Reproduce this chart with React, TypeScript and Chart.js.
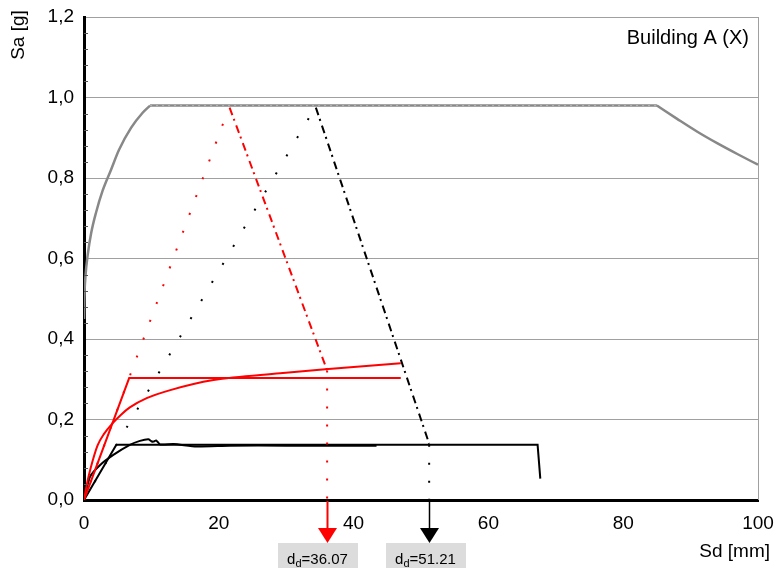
import React, { useEffect, useRef } from 'react';
import { Chart, registerables } from 'chart.js';

Chart.register(...registerables);

// ---------- data ----------
const xTickStep = 20;
const yTickStep = 0.2;
const xMax = 100;
const yMax = 1.2;

// elastic demand spectrum (ADRS): rising branch, plateau, falling branch
const specRiseSd = [0, 0.05, 0.22, 0.55, 1.05, 1.8, 2.75, 4.0, 5.2, 7.0, 8.7, 9.8];
const specRiseSa = [0.45, 0.5, 0.556, 0.609, 0.662, 0.715, 0.768, 0.82, 0.87, 0.925, 0.962, 0.98];
const specFlatSd = [9.8, 85];
const specFlatSa = [0.98, 0.98];
const specFallSd = [85, 88, 91, 94, 97, 100];
const specFallSa = [0.98, 0.947, 0.915, 0.886, 0.859, 0.833];

// red capacity curve + bilinear
const redCapSd = [0, 0.5, 1.0, 2.0, 3.0, 4.2, 5.5, 6.8, 9.3, 12.8, 19.2, 29.1, 35.8, 47.0];
const redCapSa = [0, 0.045, 0.08, 0.135, 0.165, 0.19, 0.212, 0.23, 0.253, 0.273, 0.298, 0.315, 0.325, 0.34];
const redBilinSd = [0, 6.7, 47.0];
const redBilinSa = [0, 0.303, 0.303];

// black capacity curve + bilinear
const blackCapSd = [0, 0.9, 2.4, 4.35, 6.8, 8.3, 9.55, 10.0, 10.3, 10.7, 11.3, 13.3, 16.7, 21.6, 30, 43.4];
const blackCapSa = [0, 0.058, 0.087, 0.112, 0.137, 0.147, 0.151, 0.146, 0.145, 0.148, 0.138, 0.139, 0.133, 0.135, 0.135, 0.135];
const blackBilinSd = [0, 4.8, 67.3, 67.7];
const blackBilinSa = [0, 0.137, 0.137, 0.053];

// elastic stiffness lines (dotted)
const redElasticSd = [0, 21.4];
const redElasticSa = [0, 0.97];
const blackElasticSd = [0, 34.1];
const blackElasticSa = [0, 0.97];

// demand lines (dash-dot)
const redDemandSd = [21.6, 36.07];
const redDemandSa = [0.975, 0.322];
const blackDemandSd = [34.4, 51.21];
const blackDemandSa = [0.975, 0.14];

// target displacements
const ddValues = [36.07, 51.21];
const ddLevels = [0.322, 0.137];
const ddLabels = ['36.07', '51.21'];
const ddColors = ['#ff0000', '#000000'];

const FONT = '"Liberation Sans", Arial, sans-serif';

const pts = (xs: number[], ys: number[]) => xs.map((v, i) => ({ x: v, y: ys[i] }));

const decorPlugin = {
  id: 'decor',
  afterDraw(chart: any) {
    const { ctx, chartArea: ca, scales } = chart;
    const x = scales.x;
    const y = scales.y;
    ctx.save();
    // right border
    ctx.strokeStyle = '#a0a0a0';
    ctx.lineWidth = 1;
    ctx.beginPath();
    ctx.moveTo(Math.round(ca.right) + 0.5, ca.top);
    ctx.lineTo(Math.round(ca.right) + 0.5, ca.bottom);
    ctx.stroke();
    // minor ticks on y axis
    ctx.strokeStyle = '#555';
    for (let i = 1; i < 30; i++) {
      if (i % 5 === 0) continue;
      const py = Math.round(y.getPixelForValue(i * 0.04)) + 0.5;
      ctx.beginPath();
      ctx.moveTo(ca.left, py);
      ctx.lineTo(ca.left + 4, py);
      ctx.stroke();
    }
    // titles
    ctx.fillStyle = '#000';
    ctx.font = `19px ${FONT}`;
    ctx.textAlign = 'center';
    ctx.textBaseline = 'middle';
    ctx.save();
    ctx.translate(19, 35);
    ctx.rotate(-Math.PI / 2);
    ctx.fillText('Sa [g]', 0, 0);
    ctx.restore();
    ctx.textAlign = 'right';
    ctx.fillText('Sd [mm]', 770, 552);
    ctx.font = `20px ${FONT}`;
    ctx.fillText('Building A (X)', 749, 38);

    // arrows & labels
    const boxOffsets = [-10, -4];
    ddValues.forEach((v, i) => {
      const px = Math.round(x.getPixelForValue(v)) + 0.5;
      const color = ddColors[i];
      ctx.strokeStyle = color;
      ctx.fillStyle = color;
      ctx.lineWidth = i === 0 ? 2 : 1.5;
      ctx.beginPath();
      ctx.moveTo(px, ca.bottom + 1);
      ctx.lineTo(px, 530);
      ctx.stroke();
      ctx.beginPath();
      ctx.moveTo(px - 9.5, 528);
      ctx.lineTo(px + 9.5, 528);
      ctx.lineTo(px, 543);
      ctx.closePath();
      ctx.fill();
      // box
      const bc = px + boxOffsets[i];
      ctx.fillStyle = '#dcdcdc';
      ctx.fillRect(Math.round(bc - 40), 543, 80, 25);
      // text with subscript
      ctx.fillStyle = '#000';
      ctx.textAlign = 'left';
      ctx.textBaseline = 'alphabetic';
      ctx.font = `15px ${FONT}`;
      const w1 = ctx.measureText('d').width;
      const w3 = ctx.measureText('=' + ddLabels[i]).width;
      ctx.font = `11px ${FONT}`;
      const w2 = ctx.measureText('d').width;
      const total = w1 + w2 + w3;
      let tx = bc - total / 2;
      const base = 564;
      ctx.font = `15px ${FONT}`;
      ctx.fillText('d', tx, base);
      tx += w1;
      ctx.font = `11px ${FONT}`;
      ctx.fillText('d', tx, base + 3);
      tx += w2;
      ctx.font = `15px ${FONT}`;
      ctx.fillText('=' + ddLabels[i], tx, base);
    });
    ctx.restore();
  },
};

export default function App() {
  const ref = useRef<HTMLCanvasElement | null>(null);
  useEffect(() => {
    document.body.style.margin = '0';
    if (!ref.current) return;
    const line = (data: any[], color: string, width: number, extra: any = {}) => ({
      data,
      borderColor: color,
      backgroundColor: color,
      borderWidth: width,
      pointRadius: 0,
      showLine: true,
      fill: false,
      ...extra,
    });
    const chart = new Chart(ref.current, {
      type: 'scatter',
      data: {
        datasets: [
          line(pts(redDemandSd, redDemandSa), '#ff0000', 2, { borderDash: [8, 4, 2, 5] }),
          line(pts(blackDemandSd, blackDemandSa), '#000000', 2, { borderDash: [8, 4, 2, 5] }),
          line(pts(redElasticSd, redElasticSa), '#ff0000', 2, { borderDash: [2, 17] }),
          line(pts(blackElasticSd, blackElasticSa), '#000000', 2, { borderDash: [2, 19] }),
          line(pts([ddValues[0], ddValues[0]], [ddLevels[0], 0]), '#ff0000', 2, { borderDash: [2, 16] }),
          line(pts([ddValues[1], ddValues[1]], [ddLevels[1], 0]), '#000000', 2, { borderDash: [2, 16] }),
          line(pts(redCapSd, redCapSa), '#ff0000', 2, { cubicInterpolationMode: 'monotone' }),
          line(pts(redBilinSd, redBilinSa), '#ff0000', 2),
          line(pts(blackCapSd, blackCapSa), '#000000', 2, { tension: 0.2 }),
          line(pts(blackBilinSd, blackBilinSa), '#000000', 2),
          line(pts(specFlatSd, specFlatSa), '#b4b4b4', 1, { borderDash: [2, 4] }),
          line(pts(specRiseSd, specRiseSa), '#888888', 2.5, { cubicInterpolationMode: 'monotone' }),
          line(pts(specFlatSd, specFlatSa), '#888888', 2.5),
          line(pts(specFallSd, specFallSa), '#888888', 2.5, { cubicInterpolationMode: 'monotone' }),
        ],
      },
      options: {
        animation: false,
        responsive: false,
        devicePixelRatio: 1,
        layout: { padding: { left: 0, right: 18, top: 17, bottom: 0 } },
        plugins: { legend: { display: false }, tooltip: { enabled: false }, title: { display: false } },
        scales: {
          x: {
            type: 'linear',
            min: 0,
            max: xMax,
            grid: { display: false, drawTicks: false },
            border: { display: true, color: '#000', width: 3 },
            ticks: {
              stepSize: xTickStep,
              color: '#000',
              font: { family: FONT, size: 19 },
              padding: 12,
              maxRotation: 0,
            },
            afterFit: (s: any) => {
              s.height = 71;
              s.paddingLeft = 0;
              s.paddingRight = 0;
            },
          },
          y: {
            type: 'linear',
            min: 0,
            max: yMax,
            grid: { color: '#a0a0a0', lineWidth: 1, drawTicks: false },
            border: { display: true, color: '#000', width: 3 },
            ticks: {
              stepSize: yTickStep,
              color: '#000',
              font: { family: FONT, size: 19 },
              padding: 10,
              callback: (v: any) => Number(v).toFixed(1).replace('.', ','),
            },
            afterFit: (s: any) => {
              s.width = 84;
              s.paddingTop = 0;
              s.paddingBottom = 0;
            },
          },
        },
      },
      plugins: [decorPlugin],
    });
    return () => chart.destroy();
  }, []);
  return (
    <div style={{ width: 776, height: 571 }}>
      <canvas ref={ref} width={776} height={571} />
    </div>
  );
}
